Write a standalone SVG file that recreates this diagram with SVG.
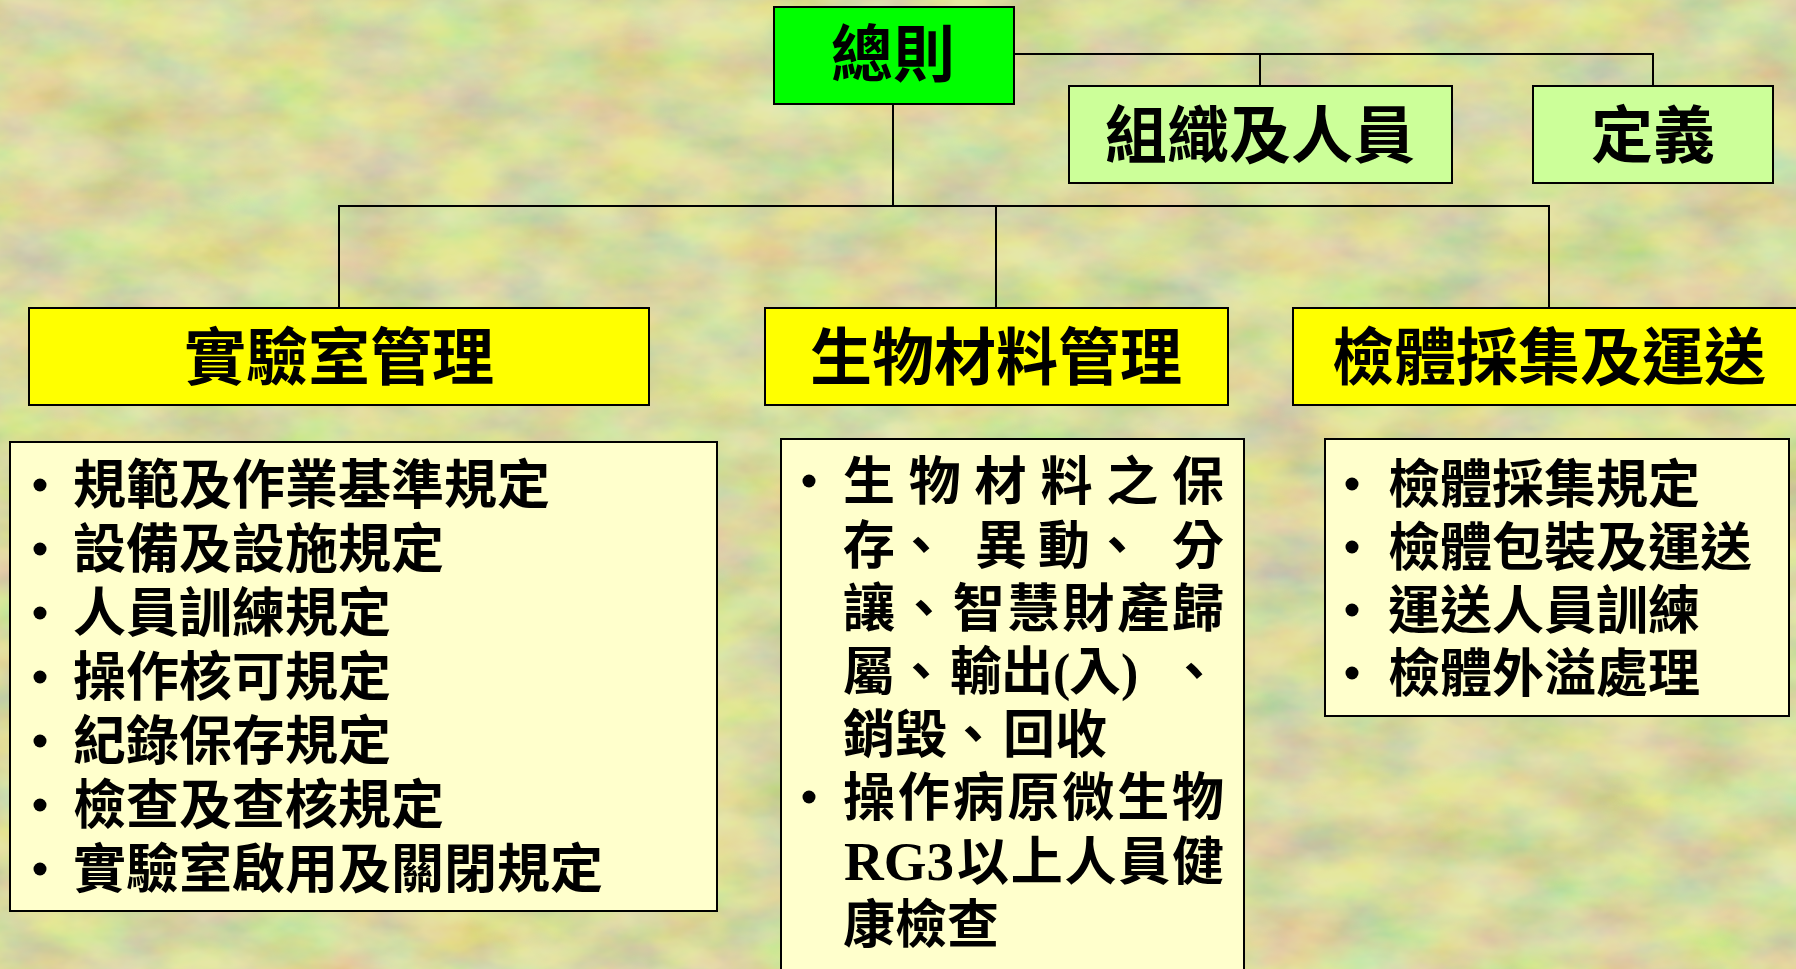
<svg xmlns="http://www.w3.org/2000/svg" width="1796" height="969" viewBox="0 0 1796 969">
<style>
.box{stroke:#000;stroke-width:2}
.root{fill:#00ff00}
.lg{fill:#ccff99}
.yl{fill:#ffff00}
.lst{fill:#ffffcc}
.hd{font-family:"Noto Sans CJK TC","Noto Sans CJK SC",sans-serif;font-weight:700;font-size:62px;fill:#000;text-anchor:middle}
.it{font-family:"Noto Sans CJK TC","Noto Sans CJK SC",sans-serif;font-weight:700;font-size:52px;fill:#000}
.sf{font-family:"Liberation Serif",serif;font-weight:700}
.conn{fill:none;stroke:#000;stroke-width:2}
.bul{fill:#000}
</style>
<defs>
<filter id="tex" x="0" y="0" width="1796" height="969" filterUnits="userSpaceOnUse">
<feTurbulence type="fractalNoise" baseFrequency="0.012 0.022" numOctaves="4" seed="7" result="n"/>
<feColorMatrix in="n" type="matrix" values="1.0 0.2 0 0 0.2  0.1 0.8 0 0 0.35  0 0 0.6 0 0.12  0 0 0 0 0.55"/>
</filter>
</defs>
<rect x="0" y="0" width="1796" height="969" fill="#c6ca8c"/>
<rect x="0" y="0" width="1796" height="969" filter="url(#tex)"/>

<g id="connectors">
<polyline class="conn" points="1014,54 1653,54 1653,86"/>
<line class="conn" x1="1260" y1="54" x2="1260" y2="86"/>
<line class="conn" x1="893" y1="104" x2="893" y2="206"/>
<polyline class="conn" points="339,308 339,206 1549,206 1549,308"/>
<line class="conn" x1="996" y1="206" x2="996" y2="308"/>
</g>

<g id="n-general">
<rect class="box root" x="774" y="7" width="240" height="97"/>
<text class="hd" x="893" y="77">總則</text>
</g>
<g id="n-org">
<rect class="box lg" x="1069" y="86" width="383" height="97"/>
<text class="hd" x="1260" y="158">組織及人員</text>
</g>
<g id="n-def">
<rect class="box lg" x="1533" y="86" width="240" height="97"/>
<text class="hd" x="1653" y="158">定義</text>
</g>

<g id="n-lab">
<rect class="box yl" x="29" y="308" width="620" height="97"/>
<text class="hd" x="339" y="380">實驗室管理</text>
</g>
<g id="n-bio">
<rect class="box yl" x="765" y="308" width="463" height="97"/>
<text class="hd" x="996" y="380">生物材料管理</text>
</g>
<g id="n-spec">
<rect class="box yl" x="1293" y="308" width="520" height="97"/>
<text class="hd" x="1549" y="380">檢體採集及運送</text>
</g>

<g id="n-lab-list">
<rect class="box lst" x="10" y="442" width="707" height="469"/>
<circle class="bul" cx="40" cy="485" r="6.5"/>
<circle class="bul" cx="40" cy="549" r="6.5"/>
<circle class="bul" cx="40" cy="613" r="6.5"/>
<circle class="bul" cx="40" cy="677" r="6.5"/>
<circle class="bul" cx="40" cy="741" r="6.5"/>
<circle class="bul" cx="40" cy="805" r="6.5"/>
<circle class="bul" cx="40" cy="869" r="6.5"/>
<text class="it" x="73" y="504" style="font-size:53px">規範及作業基準規定</text>
<text class="it" x="73" y="568" style="font-size:53px">設備及設施規定</text>
<text class="it" x="73" y="632" style="font-size:53px">人員訓練規定</text>
<text class="it" x="73" y="696" style="font-size:53px">操作核可規定</text>
<text class="it" x="73" y="760" style="font-size:53px">紀錄保存規定</text>
<text class="it" x="73" y="824" style="font-size:53px">檢查及查核規定</text>
<text class="it" x="73" y="888" style="font-size:53px">實驗室啟用及關閉規定</text>
</g>

<g id="n-bio-list">
<rect class="box lst" x="781" y="439" width="463" height="540"/>
<circle class="bul" cx="809" cy="481" r="6.5"/>
<circle class="bul" cx="809" cy="797" r="6.5"/>
<text class="it" x="843" y="500" textLength="381" lengthAdjust="spacing">生物材料之保</text>
<text class="it" y="564"><tspan x="843">存</tspan><tspan x="895">、</tspan><tspan x="975">異</tspan><tspan x="1038">動</tspan><tspan x="1091">、</tspan><tspan x="1172">分</tspan></text>
<text class="it" x="843" y="627" textLength="381" lengthAdjust="spacing">讓、智慧財產歸</text>
<text class="it" y="690"><tspan x="843">屬</tspan><tspan x="895">、</tspan><tspan x="950">輸</tspan><tspan x="1001">出</tspan><tspan class="sf" x="1053">(</tspan><tspan x="1069">入</tspan><tspan class="sf" x="1121">)</tspan><tspan x="1168">、</tspan></text>
<text class="it" y="753"><tspan x="843">銷</tspan><tspan x="895">毀</tspan><tspan x="947">、</tspan><tspan x="1003">回</tspan><tspan x="1055">收</tspan></text>
<text class="it" x="843" y="816" textLength="381" lengthAdjust="spacing">操作病原微生物</text>
<text class="it" y="880"><tspan class="sf" x="844" style="font-size:55px">RG3</tspan><tspan x="957" textLength="267" lengthAdjust="spacing">以上人員健</tspan></text>
<text class="it" x="843" y="943">康檢查</text>
</g>

<g id="n-spec-list">
<rect class="box lst" x="1325" y="439" width="464" height="277"/>
<circle class="bul" cx="1352" cy="484" r="6.5"/>
<circle class="bul" cx="1352" cy="547" r="6.5"/>
<circle class="bul" cx="1352" cy="610" r="6.5"/>
<circle class="bul" cx="1352" cy="673" r="6.5"/>
<text class="it" x="1388" y="503">檢體採集規定</text>
<text class="it" x="1388" y="566">檢體包裝及運送</text>
<text class="it" x="1388" y="629">運送人員訓練</text>
<text class="it" x="1388" y="692">檢體外溢處理</text>
</g>
</svg>
